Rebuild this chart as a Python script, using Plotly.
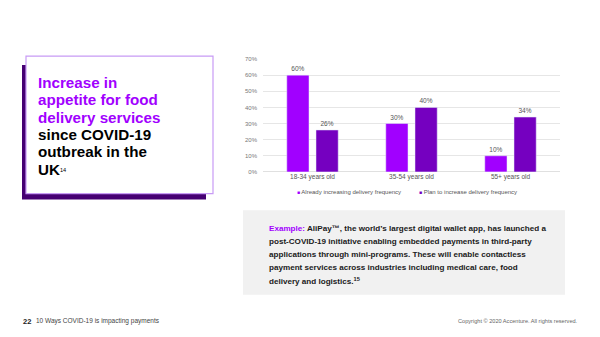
import plotly.graph_objects as go

# ---- data ----
categories = ["18-34 years old", "35-54 years old", "55+ years old"]
already_increasing = [60, 30, 10]
plan_to_increase = [26, 40, 34]
series_names = ["Already increasing delivery frequency", "Plan to increase delivery frequency"]
y_ticks = [0, 10, 20, 30, 40, 50, 60, 70]
y_tick_labels = ["0%", "10%", "20%", "30%", "40%", "50%", "60%", "70%"]

title_lines_purple = ["Increase in", "appetite for food", "delivery services"]
title_lines_black = ["since COVID-19", "outbreak in the", "UK<span style='font-weight:normal;font-size:8px'><sup>14</sup></span>"]

example_lines = [
    "<span style='color:#A100FF'>Example:</span> AliPay™, the world’s largest digital wallet app, has launched a",
    "post-COVID-19 initiative enabling embedded payments in third-party",
    "applications through mini-programs. These will enable contactless",
    "payment services across industries including medical care, food",
    "delivery and logistics.<sup>15</sup>",
]

LIGHT = "#A100FF"
DARK = "#7500C0"
W, H = 600, 337
FONT = "Liberation Sans"


def px(x):
    return x / W


def py(y):
    return 1 - y / H


fig = go.Figure()
fig.add_trace(go.Bar(x=categories, y=already_increasing, name=series_names[0],
                     marker_color=LIGHT, text=[f"{v}%" for v in already_increasing],
                     texttemplate="%{text}", textposition="outside",
                     textfont=dict(size=6.5, color="#555"), cliponaxis=False, showlegend=False))
fig.add_trace(go.Bar(x=categories, y=plan_to_increase, name=series_names[1],
                     marker_color=DARK, text=[f"{v}%" for v in plan_to_increase],
                     texttemplate="%{text}", textposition="outside",
                     textfont=dict(size=6.5, color="#555"), cliponaxis=False, showlegend=False))

shapes = [
    # shadow box
    dict(type="rect", xref="paper", yref="paper", x0=px(22), x1=px(206), y0=py(200), y1=py(63),
         fillcolor="#460073", line=dict(width=0), layer="below"),
    # white box
    dict(type="rect", xref="paper", yref="paper", x0=px(26), x1=px(213), y0=py(194), y1=py(54),
         fillcolor="white", line=dict(color="#C89BF5", width=1.2), layer="below"),
    # example box
    dict(type="rect", xref="paper", yref="paper", x0=px(243), x1=px(565), y0=py(297), y1=py(211),
         fillcolor="#F1F1F1", line=dict(width=0), layer="below"),
]

annotations = []
title_y = [81, 98.7, 116.4, 134, 151.7, 169.4]
for i, t in enumerate(title_lines_purple + title_lines_black):
    color = "#A100FF" if i < 3 else "#000000"
    annotations.append(dict(text=t, xref="paper", yref="paper", x=px(36), y=py(title_y[i]),
                            xanchor="left", yanchor="middle", showarrow=False,
                            font=dict(family=FONT, size=15.2, color=color, weight="bold")))

for i, t in enumerate(example_lines):
    annotations.append(dict(text=t, xref="paper", yref="paper", x=px(267), y=py(230 + i * 13.2),
                            xanchor="left", yanchor="middle", showarrow=False,
                            font=dict(family=FONT, size=8.1, color="#1a1a1a", weight="bold")))

# legend (built as text)
leg_x = [295, 417]
leg_colors = [LIGHT, DARK]
for i, name in enumerate(series_names):
    annotations.append(dict(text=f"<span style='color:{leg_colors[i]};font-size:5px'>■</span> {name}",
                            xref="paper", yref="paper", x=px(leg_x[i]), y=py(192),
                            xanchor="left", yanchor="middle", showarrow=False,
                            font=dict(family=FONT, size=6, color="#555")))

# footer
annotations.append(dict(text="<b>22</b>", xref="paper", yref="paper", x=px(21), y=py(324),
                        xanchor="left", yanchor="middle", showarrow=False,
                        font=dict(family=FONT, size=7.5, color="#222")))
annotations.append(dict(text="10 Ways COVID-19 is impacting payments", xref="paper", yref="paper",
                        x=px(34), y=py(324), xanchor="left", yanchor="middle", showarrow=False,
                        font=dict(family=FONT, size=6.5, color="#444")))
annotations.append(dict(text="Copyright © 2020 Accenture. All rights reserved.", xref="paper",
                        yref="paper", x=px(580), y=py(324), xanchor="right", yanchor="middle",
                        showarrow=False, font=dict(family=FONT, size=5.6, color="#666")))

fig.update_layout(
    width=W, height=H,
    margin=dict(l=0, r=0, t=0, b=0),
    paper_bgcolor="white", plot_bgcolor="white",
    barmode="group", bargap=0.41, bargroupgap=0.24,
    font=dict(family=FONT, color="#555"),
    shapes=shapes, annotations=annotations,
    xaxis=dict(domain=[px(263), px(560)], tickfont=dict(size=6.5, color="#555"),
               showline=False, ticks="", showgrid=False),
    yaxis=dict(domain=[py(172), py(57)], range=[0, 70], tickvals=y_ticks, ticktext=y_tick_labels,
               tickfont=dict(size=6, color="#777"), gridcolor="#E6E6E6", gridwidth=0.8,
               zeroline=True, zerolinecolor="#E0E0E0", zerolinewidth=1, showline=False,
               ticks="", ticklabelstandoff=5),
)

fig.write_html("out.html")
